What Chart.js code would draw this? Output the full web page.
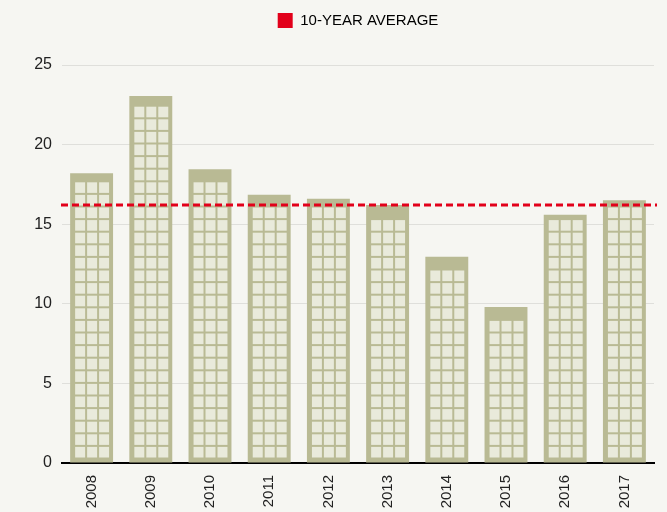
<!DOCTYPE html>
<html>
<head>
<meta charset="utf-8">
<script src="https://cdn.jsdelivr.net/npm/chart.js@4"></script>
<style>
    html, body { margin: 0; padding: 0; background: #f6f6f2; }
    #wrap { width: 667px; height: 512px; }
</style>
</head>
<body>
<div id="wrap"><canvas id="avgChart"></canvas></div>
<script>
// Yearly values
const years = ["2008", "2009", "2010", "2011", "2012", "2013", "2014", "2015", "2016", "2017"];
const yearValues = [18.2, 23.05, 18.45, 16.85, 16.6, 16.2, 12.95, 9.8, 15.6, 16.5];
const averageValue = 16.2;
const averageLabel = "10-YEAR AVERAGE";
const yMin = 0, yMax = 25, yStep = 5;

const OLIVE = "#b9ba94";
const WINDOW = "#e9eadb";
const RED = "#e2001a";
const FONT = "'Liberation Sans', Arial, sans-serif";

// paints a grid of windows inside every bar so it reads like a building
const windowsPlugin = {
    id: "windows",
    afterDatasetDraw(chart, args) {
        const ctx = chart.ctx;
        const pitch = 12.6, gap = 2, side = 5, bottom = 5, top = 5;
        ctx.save();
        ctx.fillStyle = WINDOW;
        args.meta.data.forEach(bar => {
            const { x, y, base, width } = bar.getProps(["x", "y", "base", "width"], true);
            const left = x - width / 2 + side;
            const inner = width - side - (side - 1);
            const winW = (inner - 2 * gap) / 3;
            let rowBottom = base - bottom;
            while (rowBottom - (pitch - gap) >= y + top) {
                for (let c = 0; c < 3; c++) {
                    ctx.fillRect(left + c * (winW + gap), rowBottom - (pitch - gap), winW, pitch - gap);
                }
                rowBottom -= pitch;
            }
        });
        ctx.restore();
    }
};

// dashed red average line across the whole plot width
const averageLine = {
    id: "averageLine",
    afterDatasetsDraw(chart) {
        const { ctx, chartArea, scales } = chart;
        const y = scales.y.getPixelForValue(averageValue);
        ctx.save();
        ctx.strokeStyle = RED;
        ctx.lineWidth = 3;
        ctx.setLineDash([7, 4]);
        ctx.beginPath();
        ctx.moveTo(chartArea.left - 1, y);
        ctx.lineTo(chartArea.right + 3, y);
        ctx.stroke();
        ctx.restore();
    }
};

// extra room between the legend and the plot
const legendGap = {
    id: "legendGap",
    beforeLayout(chart) {
        const lg = chart.legend;
        if (lg && !lg._gapAdded) {
            const fit = lg.fit;
            lg.fit = function () {
                fit.call(this);
                this.height += 27;
            };
            lg._gapAdded = true;
        }
    }
};

new Chart(document.getElementById("avgChart"), {
    type: "bar",
    data: {
        labels: years,
        datasets: [
            {
                label: "values",
                data: yearValues,
                backgroundColor: OLIVE,
                borderWidth: 0,
                categoryPercentage: 1,
                barPercentage: 0.725
            }
        ]
    },
    options: {
        responsive: true,
        maintainAspectRatio: false,
        animation: false,
        layout: { padding: { left: 0, right: 13, top: 1, bottom: 2 } },
        plugins: {
            tooltip: { enabled: false },
            legend: {
                position: "top",
                fullSize: false,
                labels: {
                    generateLabels: () => [{
                        text: averageLabel,
                        fillStyle: RED,
                        strokeStyle: RED,
                        lineWidth: 0
                    }],
                    boxWidth: 15,
                    boxHeight: 15,
                    color: "#333",
                    font: { family: FONT, size: 15 },
                    padding: 12
                }
            }
        },
        scales: {
            x: {
                grid: { display: false, drawTicks: false },
                border: { display: true, color: "#000", width: 2 },
                afterFit: scale => { scale.height = 47; },
                ticks: {
                    minRotation: 90,
                    maxRotation: 90,
                    padding: 12,
                    color: "#222",
                    font: { family: FONT, size: 15 }
                }
            },
            y: {
                min: yMin,
                max: yMax,
                afterFit: scale => { scale.width = 62; },
                grid: { color: "#dfdfdb", lineWidth: 1, drawTicks: false },
                border: { display: false },
                ticks: {
                    stepSize: yStep,
                    padding: 10,
                    color: "#222",
                    font: { family: FONT, size: 16 }
                }
            }
        }
    },
    plugins: [windowsPlugin, averageLine, legendGap]
});
</script>
</body>
</html>
